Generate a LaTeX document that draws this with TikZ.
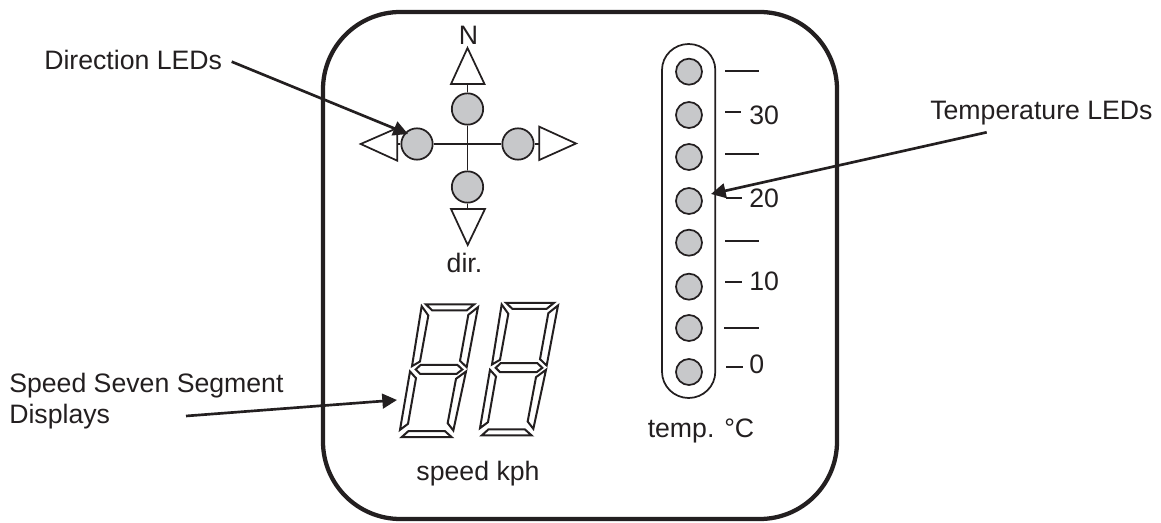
\documentclass[tikz,border=0pt]{standalone}
\usepackage{fontspec}
\setmainfont{Liberation Sans}
\usetikzlibrary{arrows.meta}
\definecolor{ink}{HTML}{231F20}
\definecolor{ledgrey}{HTML}{C7C8CA}
\newcommand{\digitseg}[2]{%
 \begin{scope}[shift={(#1,#2)},x=0.25pt,y=-0.25pt]
  \draw[seg] (78,57)--(222,57)--(200,75)--(97,75)--cycle;
  \draw[seg] (65,62)--(85,90)--(60,228)--(36,242)--cycle;
  \draw[seg] (234,65)--(205,88)--(180,226)--(200,245)--cycle;
  \draw[seg] (47,252)--(62,238)--(172,238)--(187,252)--(170,265)--(60,265)--cycle;
  \draw[seg] (30,258)--(48,278)--(24,415)--(0,433)--cycle;
  \draw[seg] (198,258)--(168,280)--(143,413)--(160,435)--cycle;
  \draw[seg] (5,455)--(25,437)--(135,437)--(155,455)--cycle;
 \end{scope}}
\tikzset{
 seg/.style={draw=ink,line width=1.5pt,line join=miter},
 led/.style={circle,draw=ink,fill=ledgrey,line width=1.3pt,inner sep=0pt},
 dirled/.style={led,minimum size=23.5pt},
 templed/.style={led,minimum size=19.5pt},
 wire/.style={draw=ink,line width=1.3pt},
 tri/.style={draw=ink,line width=1.3pt,fill=white,line join=miter},
 tick/.style={draw=ink,line width=1.3pt},
 callout/.style={draw=ink,line width=2pt,-{Triangle[length=11pt,width=11pt]}},
 lab/.style={font=\fontsize{20pt}{23pt}\selectfont,text=ink,inner sep=0pt},
}
\begin{document}
\begin{tikzpicture}[x=0.75pt,y=-0.75pt]
\useasboundingbox (0,0) rectangle (1161,523);
% housing
\draw[ink,line width=3.2pt,rounded corners=58pt] (323,12) rectangle (837,519);
% direction cross
\node[dirled] (ledU) at (467.5,109) {};
\node[dirled] (ledD) at (467.5,187) {};
\node[dirled] (ledL) at (417,144) {};
\node[dirled] (ledR) at (518,144) {};
\coordinate (bU) at (467.5,84);
\coordinate (bD) at (467.5,209);
\coordinate (bL) at (397.3,144);
\coordinate (bR) at (539.3,144);
\draw[wire] (ledU) -- (ledD);
\draw[wire] (ledL) -- (ledR);
\draw[wire] (bU) -- (ledU);
\draw[wire] (bD) -- (ledD);
\draw[wire] (bL) -- (ledL);
\draw[wire] (bR) -- (ledR);
\draw[tri] (467.5,48) -- (484.5,84) -- (451,84) -- cycle;
\draw[tri] (467.7,245) -- (485,209) -- (451,209) -- cycle;
\draw[tri] (360.7,144) -- (397.3,128) -- (397.3,160.7) -- cycle;
\draw[tri] (576,143.5) -- (539.3,126.7) -- (539.3,160) -- cycle;
\node[lab] (north) at (468.5,35.5) {N};
\node[lab] (dirlab) at (464.5,262.5) {dir.};
% seven segment displays
\digitseg{400}{285.5}
\digitseg{480}{283.83}
\node[lab] (speedlab) at (478,474) {speed kph};
% temperature bar
\draw[ink,line width=1.3pt] (662,70) arc[start angle=180,end angle=0,x radius=26.65,y radius=-26]
  -- (715.3,371.7) arc[start angle=0,end angle=-180,x radius=26.65,y radius=-26.3] -- cycle;
\foreach \n/\y in {a/71.7,b/115,c/157,d/201,e/242.7,f/286.7,g/328,h/372}
  \node[templed] (t\n) at (689,\y) {};
\draw[tick] (725,70.7) -- (759,70.7);
\draw[tick] (725,112) -- (741,112);
\draw[tick] (725,153.7) -- (759,153.7);
\draw[tick] (726,198) -- (742,198);
\draw[tick] (725,241) -- (759,241);
\draw[tick] (725,281.7) -- (742,281.7);
\draw[tick] (724,327.7) -- (759,327.7);
\draw[tick] (726,366.7) -- (743,366.7);
\node[lab,anchor=west] (l30) at (749,115) {30};
\node[lab,anchor=west] (l20) at (749,198) {20};
\node[lab,anchor=west] (l10) at (749,281) {10};
\node[lab,anchor=west] (l0) at (749,364) {0};
\node[lab] (templab) at (701,431) {temp. °C};
% callouts
\node[lab,anchor=west] (dirleds) at (44,60) {Direction LEDs};
\node[lab,anchor=west] (templeds) at (930,113) {Temperature LEDs};
\node[lab,anchor=west,align=left] (speedsegs) at (9,401) {Speed Seven Segment\\Displays};
\coordinate (c1) at (231.7,61.7);
\coordinate (c2) at (986.7,132.3);
\coordinate (c3) at (186,416);
\coordinate (t1) at (408,134);
\coordinate (t2) at (711,194);
\coordinate (t3) at (397,400);
\draw[callout] (c1) -- (t1);
\draw[callout] (c2) -- (t2);
\draw[callout] (c3) -- (t3);
\end{tikzpicture}
\end{document}
